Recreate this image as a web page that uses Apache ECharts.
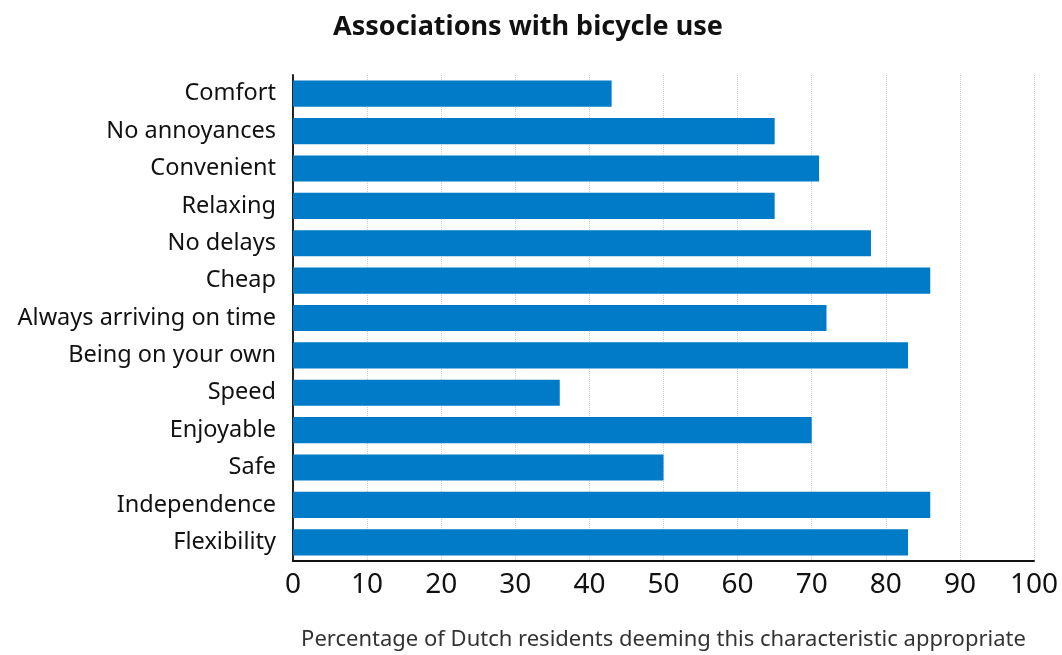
<!DOCTYPE html>
<html>
<head>
<meta charset="utf-8">
<script src="https://cdn.jsdelivr.net/npm/echarts@6/dist/echarts.min.js"></script>
<style>
  html, body { margin: 0; padding: 0; background: #fff; }
  #chart { width: 1062px; height: 655px; }
</style>
</head>
<body>
<div id="chart"></div>
<script>
var categories = ['Comfort', 'No annoyances', 'Convenient', 'Relaxing', 'No delays', 'Cheap',
  'Always arriving on time', 'Being on your own', 'Speed', 'Enjoyable', 'Safe', 'Independence', 'Flexibility']
var values = [43, 65, 71, 65, 78, 86, 72, 83, 36, 70, 50, 86, 83]
var xTicks = { min: 0, max: 100, interval: 10 }

var myChart = echarts.init(document.getElementById('chart'))
var option = {
  textStyle: { fontFamily: 'Noto Sans' },
  title: {
    text: 'Associations with bicycle use',
    left: 328,
    top: 9,
    textStyle: { fontSize: 27, fontWeight: 'bold', color: '#111', fontFamily: 'Noto Sans' }
  },
  grid: { left: 293, right: 28, top: 75, bottom: 94, containLabel: false, outerBoundsMode: 'none' },
  xAxis: {
    type: 'value',
    min: xTicks.min,
    max: xTicks.max,
    interval: xTicks.interval,
    name: 'Percentage of Dutch residents deeming this characteristic appropriate',
    nameLocation: 'middle',
    nameGap: 68,
    nameTextStyle: { fontSize: 22, color: '#333' },
    axisLine: { show: true, lineStyle: { color: '#111', width: 2 } },
    axisTick: { show: false },
    axisLabel: { fontSize: 28, color: '#111', margin: 10 },
    splitLine: { show: true, lineStyle: { color: '#cfcfcf', type: 'dotted', width: 1 } }
  },
  yAxis: {
    type: 'category',
    data: categories,
    inverse: true,
    axisLine: { show: true, lineStyle: { color: '#222', width: 2 } },
    axisTick: { show: false },
    axisLabel: { fontSize: 23.5, color: '#111', margin: 17 }
  },
  series: [
    {
      type: 'bar',
      data: values,
      barCategoryGap: '30%',
      itemStyle: { color: '#007bc7' },
      silent: true
    }
  ]
}
myChart.setOption(option)
</script>
</body>
</html>
